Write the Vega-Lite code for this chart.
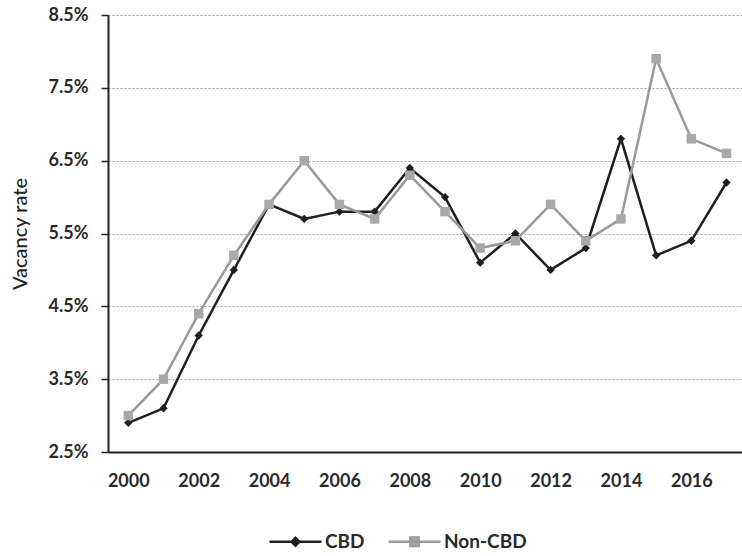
{
  "$schema": "https://vega.github.io/schema/vega-lite/v6.json",
  "autosize": {"type": "none"},
  "padding": {"left": 108, "top": 15, "right": 0, "bottom": 104},
  "width": 634,
  "height": 437,
  "background": "#ffffff",
  "config": {"view": {"stroke": null}, "font": "Lato"},
  "data": {"values": [
    {"year": 2000, "series": "CBD", "rate": 2.9},
    {"year": 2001, "series": "CBD", "rate": 3.1},
    {"year": 2002, "series": "CBD", "rate": 4.1},
    {"year": 2003, "series": "CBD", "rate": 5.0},
    {"year": 2004, "series": "CBD", "rate": 5.9},
    {"year": 2005, "series": "CBD", "rate": 5.7},
    {"year": 2006, "series": "CBD", "rate": 5.8},
    {"year": 2007, "series": "CBD", "rate": 5.8},
    {"year": 2008, "series": "CBD", "rate": 6.4},
    {"year": 2009, "series": "CBD", "rate": 6.0},
    {"year": 2010, "series": "CBD", "rate": 5.1},
    {"year": 2011, "series": "CBD", "rate": 5.5},
    {"year": 2012, "series": "CBD", "rate": 5.0},
    {"year": 2013, "series": "CBD", "rate": 5.3},
    {"year": 2014, "series": "CBD", "rate": 6.8},
    {"year": 2015, "series": "CBD", "rate": 5.2},
    {"year": 2016, "series": "CBD", "rate": 5.4},
    {"year": 2017, "series": "CBD", "rate": 6.2},
    {"year": 2000, "series": "Non-CBD", "rate": 3.0},
    {"year": 2001, "series": "Non-CBD", "rate": 3.5},
    {"year": 2002, "series": "Non-CBD", "rate": 4.4},
    {"year": 2003, "series": "Non-CBD", "rate": 5.2},
    {"year": 2004, "series": "Non-CBD", "rate": 5.9},
    {"year": 2005, "series": "Non-CBD", "rate": 6.5},
    {"year": 2006, "series": "Non-CBD", "rate": 5.9},
    {"year": 2007, "series": "Non-CBD", "rate": 5.7},
    {"year": 2008, "series": "Non-CBD", "rate": 6.3},
    {"year": 2009, "series": "Non-CBD", "rate": 5.8},
    {"year": 2010, "series": "Non-CBD", "rate": 5.3},
    {"year": 2011, "series": "Non-CBD", "rate": 5.4},
    {"year": 2012, "series": "Non-CBD", "rate": 5.9},
    {"year": 2013, "series": "Non-CBD", "rate": 5.4},
    {"year": 2014, "series": "Non-CBD", "rate": 5.7},
    {"year": 2015, "series": "Non-CBD", "rate": 7.9},
    {"year": 2016, "series": "Non-CBD", "rate": 6.8},
    {"year": 2017, "series": "Non-CBD", "rate": 6.6}
  ]},
  "encoding": {
    "x": {
      "field": "year", "type": "quantitative",
      "scale": {"domain": [1999.423, 2017.44], "nice": false, "zero": false},
      "axis": {
        "title": null, "values": [2000, 2002, 2004, 2006, 2008, 2010, 2012, 2014, 2016],
        "format": "d", "grid": false, "ticks": false,
        "domainColor": "#222", "domainWidth": 2,
        "labelFont": "Lato", "labelFontWeight": "bold", "labelFontSize": 18,
        "labelColor": "#2a2a2a", "labelPadding": 20, "labelFlush": false
      }
    },
    "y": {
      "field": "rate", "type": "quantitative",
      "scale": {"domain": [2.5, 8.5], "nice": false, "zero": false},
      "axis": {
        "title": "Vacancy rate", "titleFont": "Lato", "titleFontSize": 20, "titleFontWeight": 500,
        "titleColor": "#222", "titlePadding": 18,
        "values": [2.5, 3.5, 4.5, 5.5, 6.5, 7.5, 8.5],
        "labelExpr": "format(datum.value, '.1f') + '%'",
        "grid": true, "gridColor": "#9aa0a8", "gridDash": [2, 2], "gridWidth": 1,
        "tickColor": "#222", "tickSize": 7, "tickWidth": 1.5,
        "domainColor": "#222", "domainWidth": 2,
        "labelFont": "Lato", "labelFontWeight": "bold", "labelFontSize": 18,
        "labelColor": "#2a2a2a", "labelPadding": 13
      }
    }
  },
  "layer": [
    {
      "mark": {"type": "line", "strokeWidth": 2.5},
      "encoding": {
        "color": {
          "field": "series", "type": "nominal",
          "scale": {"domain": ["CBD", "Non-CBD"], "range": ["#1f1f1f", "#9a9a9a"]},
          "legend": {
            "title": null, "orient": "none", "legendX": 160, "legendY": 499,
            "direction": "horizontal", "symbolSize": 2704, "symbolStrokeWidth": 2.5,
            "labelFont": "Lato", "labelFontWeight": "bold", "labelFontSize": 19, "labelColor": "#2a2a2a",
            "labelOffset": 2, "columnPadding": 18,
            "encode": {
              "symbols": {"update": {
                "shape": {"signal": "datum.value === 'CBD' ? 'M-1,0L1,0M0,-0.15L0.15,0L0,0.15L-0.15,0Z' : 'M-1,0L1,0M-0.16,-0.16L0.16,-0.16L0.16,0.16L-0.16,0.16Z'"},
                "size": {"value": 2704},
                "strokeWidth": {"value": 2.5},
                "fill": {"signal": "datum.value === 'CBD' ? '#1f1f1f' : '#a8a8a8'"},
                "stroke": {"signal": "datum.value === 'CBD' ? '#1f1f1f' : '#9a9a9a'"}
              }}
            }
          }
        }
      }
    },
    {
      "transform": [{"filter": "datum.series === 'CBD'"}],
      "mark": {"type": "point", "filled": true, "opacity": 1, "shape": "diamond", "size": 70, "color": "#1f1f1f"}
    },
    {
      "transform": [{"filter": "datum.series === 'Non-CBD'"}],
      "mark": {"type": "point", "filled": true, "opacity": 1, "shape": "square", "size": 90, "color": "#a8a8a8"}
    }
  ]
}
